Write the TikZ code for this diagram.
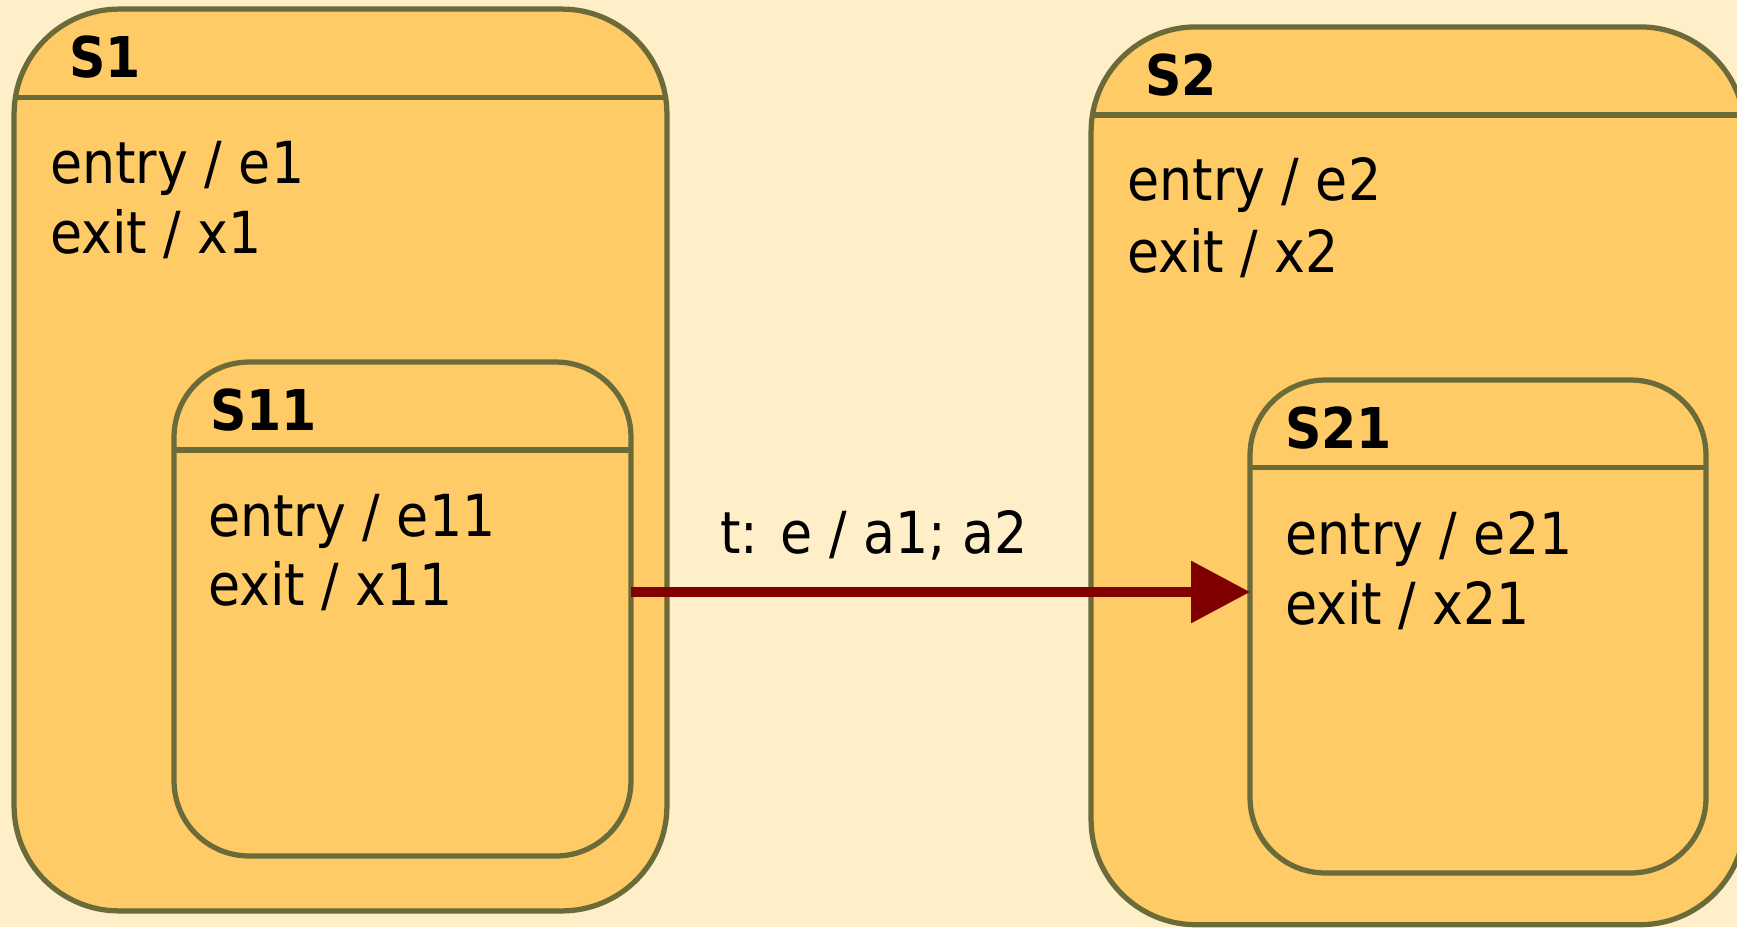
\documentclass[tikz,border=0pt]{standalone}
\usepackage{fontspec}
\setmainfont{DejaVu Sans Condensed}
\usetikzlibrary{arrows.meta}
\definecolor{bgcream}{HTML}{FFEFC8}
\definecolor{statefill}{HTML}{FFCB66}
\definecolor{stateline}{HTML}{6B6B3A}
\definecolor{transred}{HTML}{800000}
\tikzset{
  statebox/.style={draw=stateline, fill=statefill, line width=0.105cm,
    inner sep=0pt, outer sep=0pt},
  outerstate/.style={statebox, rounded corners=2.1cm},
  innerstate/.style={statebox, rounded corners=1.5cm},
  divider/.style={draw=stateline, line width=0.105cm},
  title/.style={anchor=base west, inner sep=0pt, font=\fontsize{32}{38}\selectfont\bfseries},
  acts/.style={anchor=base west, inner sep=0pt, align=left,
    font=\fontsize{33}{40}\selectfont},
  transition/.style={draw=transred, line width=0.19cm,
    -{Triangle[length=1.18cm, width=1.2cm]}},
}
\begin{document}
\begin{tikzpicture}[x=0.02cm, y=-0.02cm]
  \fill[bgcream] (0,0) rectangle (1737,927);
  \useasboundingbox (0,0) rectangle (1737,927);

  % composite state S1 with nested S11
  \node[outerstate, minimum width=13.06cm, minimum height=18.04cm] (s1) at (340.5,460) {};
  \draw[divider] (s1.west |- 0,97.5) -- (s1.east |- 0,97.5);
  \node[title] (s1t) at (69,77) {S1};
  \node[acts] (s1a) at (50,183) {entry / e1};
  \node[acts] (s1b) at (50,253) {exit / x1};

  \node[innerstate, minimum width=9.14cm, minimum height=9.88cm] (s11) at (402.5,609) {};
  \draw[divider] (s11.west |- 0,450) -- (s11.east |- 0,450);
  \node[title] (s11t) at (210,430) {S11};
  \node[acts] (s11a) at (208,536) {entry / e11};
  \node[acts] (s11b) at (208,605) {exit / x11};

  % composite state S2 with nested S21
  \node[outerstate, minimum width=13.08cm, minimum height=17.96cm] (s2) at (1418,475.8) {};
  \draw[divider] (s2.west |- 0,115) -- (s2.east |- 0,115);
  \node[title] (s2t) at (1145,95) {S2};
  \node[acts] (s2a) at (1127,200) {entry / e2};
  \node[acts] (s2b) at (1127,272) {exit / x2};

  \node[innerstate, minimum width=9.12cm, minimum height=9.86cm] (s21) at (1478,626.5) {};
  \draw[divider] (s21.west |- 0,467.5) -- (s21.east |- 0,467.5);
  \node[title] (s21t) at (1285,448) {S21};
  \node[acts] (s21a) at (1285,554) {entry / e21};
  \node[acts] (s21b) at (1285,624) {exit / x21};

  % transition t
  \draw[transition] (s11.east |- 0,592) -- (s21.west |- 0,592);
  \node[acts] (tl) at (720,553) {t: e / a1; a2};
\end{tikzpicture}
\end{document}
